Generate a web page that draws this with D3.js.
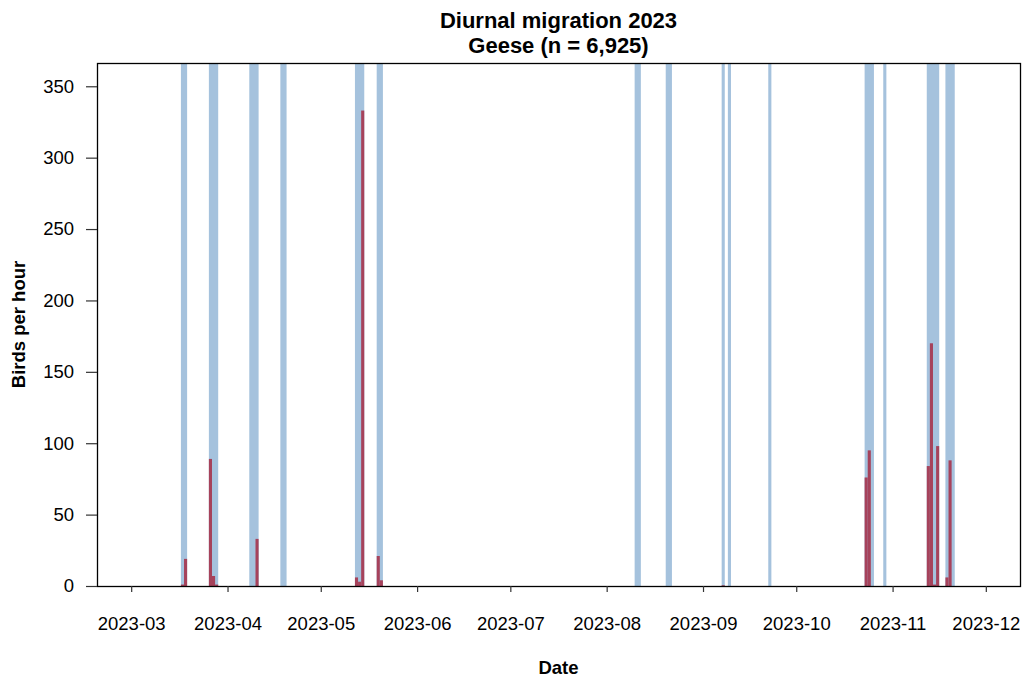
<!DOCTYPE html>
<html>
<head>
<meta charset="utf-8">
<script src="https://cdn.jsdelivr.net/npm/d3@7"></script>
<style>
  html, body { margin: 0; padding: 0; background: #fff; }
  svg { display: block; font-family: "Liberation Sans", Arial, sans-serif; }
</style>
</head>
<body>
<svg id="chart" width="1022" height="681"></svg>
<script>
// Days with observation effort (shaded in blue)
const effortDays = [
  "2023-03-17", "2023-03-18",
  "2023-03-26", "2023-03-27", "2023-03-28",
  "2023-04-08", "2023-04-09", "2023-04-10",
  "2023-04-18", "2023-04-19",
  "2023-05-12", "2023-05-13", "2023-05-14",
  "2023-05-19", "2023-05-20",
  "2023-08-10", "2023-08-11",
  "2023-08-20", "2023-08-21",
  "2023-09-07",
  "2023-09-09",
  "2023-09-22",
  "2023-10-23", "2023-10-24", "2023-10-25",
  "2023-10-29",
  "2023-11-12", "2023-11-13", "2023-11-14", "2023-11-15",
  "2023-11-18", "2023-11-19", "2023-11-20"
];

// Daily passage rate of geese (birds per hour)
const migrationDays = [
  "2023-03-17", "2023-03-18",
  "2023-03-26", "2023-03-27", "2023-03-28",
  "2023-04-10",
  "2023-05-12", "2023-05-13", "2023-05-14",
  "2023-05-19", "2023-05-20",
  "2023-09-07",
  "2023-10-23", "2023-10-24",
  "2023-11-12", "2023-11-13", "2023-11-14", "2023-11-15",
  "2023-11-18", "2023-11-19"
];
const birdsPerHour = [
  1, 19,
  89, 7, 1,
  33,
  6, 3, 333,
  21, 4,
  0.5,
  76, 95,
  84, 170, 1, 98,
  6, 88
];

// Axis ticks and labels
const monthTicks = ["2023-03-01", "2023-04-01", "2023-05-01", "2023-06-01", "2023-07-01",
                    "2023-08-01", "2023-09-01", "2023-10-01", "2023-11-01", "2023-12-01"];
const yTicks = [0, 50, 100, 150, 200, 250, 300, 350];
const titleLines = ["Diurnal migration 2023", "Geese (n = 6,925)"];
const xTitle = "Date";
const yTitle = "Birds per hour";

const parse = d3.utcParse("%Y-%m-%d");
const fmt = d3.utcFormat("%Y-%m");

const margin = { left: 97, right: 1020, top: 63, bottom: 586 };
const svg = d3.select("#chart");

// x range: first to last month tick, padded by 4% on each side
const xStart = parse(monthTicks[0]);
const xEnd = parse(monthTicks[monthTicks.length - 1]);
const pad = (xEnd - xStart) * 0.04;
const x = d3.scaleUtc()
  .domain([new Date(+xStart - pad), new Date(+xEnd + pad)])
  .range([margin.left, margin.right]);

const y = d3.scaleLinear()
  .domain([0, d3.max(birdsPerHour) * 1.1])
  .range([margin.bottom, margin.top]);

// group consecutive observation days into continuous runs
const runs = [];
effortDays.map(parse).sort((a, b) => a - b).forEach(d => {
  const last = runs[runs.length - 1];
  if (last && +last.end === +d) last.end = d3.utcDay.offset(d, 1);
  else runs.push({ start: d, end: d3.utcDay.offset(d, 1) });
});

svg.append("g")
  .selectAll("rect")
  .data(runs)
  .join("rect")
  .attr("x", d => x(d.start))
  .attr("width", d => x(d.end) - x(d.start))
  .attr("y", margin.top)
  .attr("height", margin.bottom - margin.top)
  .attr("fill", "#a5c2dd");

// daily passage bars
const bars = migrationDays.map((d, i) => ({ date: parse(d), value: birdsPerHour[i] }));
svg.append("g")
  .selectAll("rect")
  .data(bars)
  .join("rect")
  .attr("x", d => x(d.date))
  .attr("width", d => x(d3.utcDay.offset(d.date, 1)) - x(d.date))
  .attr("y", d => y(d.value))
  .attr("height", d => y(0) - y(d.value))
  .attr("fill", "#a6425b");

// plot frame
svg.append("rect")
  .attr("x", margin.left + 0.5)
  .attr("y", margin.top + 0.5)
  .attr("width", margin.right - margin.left)
  .attr("height", margin.bottom - margin.top)
  .attr("fill", "none")
  .attr("stroke", "#000")
  .attr("stroke-width", 1.3);

// x axis
const xAxis = svg.append("g")
  .attr("transform", `translate(0,${margin.bottom})`)
  .call(d3.axisBottom(x)
    .tickValues(monthTicks.map(parse))
    .tickFormat(fmt)
    .tickSize(6)
    .tickSizeOuter(0)
    .tickPadding(24.5));
xAxis.select(".domain").remove();
xAxis.selectAll("text").attr("font-size", 18.5).attr("fill", "#000")
  .attr("font-family", "Liberation Sans, Arial, sans-serif");
xAxis.selectAll("line").attr("stroke", "#333").attr("stroke-width", 1.2);

// y axis
const yAxis = svg.append("g")
  .attr("transform", `translate(${margin.left},0)`)
  .call(d3.axisLeft(y)
    .tickValues(yTicks)
    .tickSize(11)
    .tickSizeOuter(0)
    .tickPadding(12));
yAxis.select(".domain").remove();
yAxis.selectAll("text").attr("font-size", 18.5).attr("fill", "#000")
  .attr("font-family", "Liberation Sans, Arial, sans-serif");
yAxis.selectAll("line").attr("stroke", "#333").attr("stroke-width", 1.2);

// titles
const cx = (margin.left + margin.right) / 2;
svg.append("g")
  .selectAll("text")
  .data(titleLines)
  .join("text")
  .attr("x", cx)
  .attr("y", (d, i) => 28 + i * 25)
  .attr("text-anchor", "middle")
  .attr("font-size", 22)
  .attr("font-weight", "bold")
  .text(d => d);

svg.append("text")
  .attr("x", cx)
  .attr("y", 674)
  .attr("text-anchor", "middle")
  .attr("font-size", 18.5)
  .attr("font-weight", "bold")
  .text(xTitle);

svg.append("text")
  .attr("transform", `translate(25,${(margin.top + margin.bottom) / 2}) rotate(-90)`)
  .attr("text-anchor", "middle")
  .attr("font-size", 18.5)
  .attr("font-weight", "bold")
  .text(yTitle);
</script>
</body>
</html>
